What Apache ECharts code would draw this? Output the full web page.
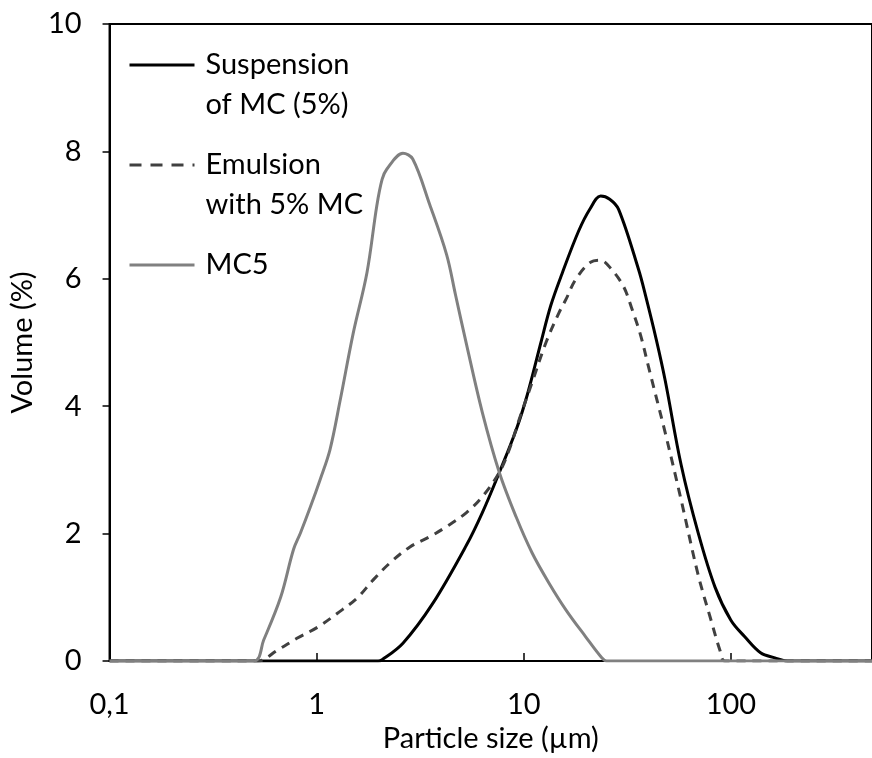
<!DOCTYPE html>
<html><head><meta charset="utf-8">
<script src="https://cdn.jsdelivr.net/npm/echarts@6/dist/echarts.min.js"></script>
<style>html,body{margin:0;padding:0;background:#fff}#c{width:872px;height:758px}</style>
</head><body><div id="c"></div>
<script>
const seriesNames = ['Suspension of MC (5%)', 'Emulsion with 5% MC', 'MC5'];
const legendLabels = ['\u00a0\nSuspension\nof MC (5%)', '\u00a0\nEmulsion\nwith 5% MC', '\u00a0\nMC5\n\u00a0'];
const xTitle = 'Particle size (µm)';
const yTitle = 'Volume (%)';

const suspensionSize   = [0.1, 1.98, 2.07, 2.61, 3.63, 5.29, 6.31, 7.62, 9.19, 10.4, 12.1, 13.5, 15.3, 18.4, 20.9, 23.5, 26.0, 28.7, 35.8, 38.7, 43.6, 48.2, 57.5, 69.5, 83.8, 100, 116.7, 139, 163, 188, 480];
const suspensionVolume = [0,   0,    0.02, 0.28, 0.90, 1.82, 2.33, 2.96, 3.63, 4.18, 5.00, 5.58, 6.08, 6.75, 7.10, 7.30, 7.25, 7.09, 6.15, 5.74, 5.05, 4.40, 3.08, 2.01, 1.16, 0.64, 0.38,  0.13, 0.05, 0, 0];

const emulsionSize   = [0.1, 0.519, 0.647, 0.807, 1.01, 1.26, 1.57, 1.87, 2.26, 2.82, 3.51, 4.24, 5.29, 6.31, 7.62, 8.51, 9.50, 10.96, 12.8, 14.8, 16.0, 17.8, 21.0, 23.5, 26.5, 30.3, 33.1, 36.6, 40.0, 48.2, 57.5, 69.5, 80.2, 88.5, 93.6, 480];
const emulsionVolume = [0,   0,     0.17,  0.36,  0.53, 0.75, 0.99, 1.27, 1.54, 1.79, 1.95, 2.11, 2.33, 2.58, 2.96, 3.32, 3.79, 4.37,  5.00, 5.47, 5.68, 5.99, 6.26, 6.29, 6.15, 5.88, 5.55, 5.12, 4.62, 3.58, 2.53, 1.35, 0.64, 0.17, 0, 0];

const mc5Size   = [0.1, 0.497, 0.555, 0.670, 0.773, 0.835, 0.933, 1.04, 1.16, 1.30, 1.50, 1.75, 1.95, 2.07, 2.18, 2.61, 2.91, 3.51, 4.24, 4.68, 5.29, 6.31, 7.62, 9.19, 10.96, 13.2, 16.0, 19.9, 23.8, 25.1, 480];
const mc5Volume = [0,   0,     0.33,  1.00,  1.75,  2.01,  2.42,  2.85, 3.32, 4.10, 5.14, 6.10, 7.14, 7.56, 7.72, 7.97, 7.88, 7.17, 6.38, 5.75, 4.97, 3.90, 2.96, 2.26, 1.70,  1.23, 0.80, 0.38, 0.05, 0, 0];

const FONT = 'Lato';
const pairs = (xs, ys) => xs.map((x, i) => [x, ys[i]]);

const chart = echarts.init(document.getElementById('c'), null, {renderer: 'canvas'});
chart.setOption({
  animation: false,
  backgroundColor: '#fff',
  textStyle: {fontFamily: FONT, color: '#000'},
  grid: {left: 108, right: -3, top: 24, bottom: 97, show: true, borderColor: '#000', borderWidth: 2, containLabel: false},
  legend: {
    orient: 'vertical', left: 123, top: 0, itemGap: -20,
    itemWidth: 65, itemHeight: 14,
    data: [
      {name: seriesNames[0]},
      {name: seriesNames[1], lineStyle: {type: [12, 9], width: 3}},
      {name: seriesNames[2]}
    ],
    formatter: name => legendLabels[seriesNames.indexOf(name)],
    itemStyle: {opacity: 0},
    lineStyle: {width: 3},
    textStyle: {fontFamily: FONT, fontSize: 29, color: '#000', lineHeight: 40, padding: [0, 0, 0, 6]},
    selectedMode: false
  },
  xAxis: {
    type: 'log', logBase: 10, min: 0.1, max: 480,
    name: xTitle, nameLocation: 'middle', nameGap: 63,
    nameTextStyle: {fontFamily: FONT, fontSize: 29, color: '#000'},
    axisLine: {show: true, lineStyle: {color: '#000', width: 2}},
    axisTick: {show: true, inside: true, length: 8, lineStyle: {color: '#000', width: 1.5}},
    axisLabel: {fontFamily: FONT, fontSize: 29, color: '#000', margin: 29, showMaxLabel: false,
      formatter: v => String(+v.toPrecision(6)).replace('.', ',')},
    splitLine: {show: false}, minorTick: {show: false}
  },
  yAxis: {
    type: 'value', min: 0, max: 10, interval: 2,
    name: yTitle, nameLocation: 'middle', nameGap: 53, nameRotate: 90,
    nameTextStyle: {fontFamily: FONT, fontSize: 29, color: '#000'},
    axisLine: {show: true, lineStyle: {color: '#000', width: 2}},
    axisTick: {show: true, inside: false, length: 7, lineStyle: {color: '#000', width: 1.5}},
    axisLabel: {fontFamily: FONT, fontSize: 29, color: '#000', margin: 28},
    splitLine: {show: false}
  },
  series: [
    {name: seriesNames[0], type: 'line', data: pairs(suspensionSize, suspensionVolume), symbol: 'none', smooth: 0.35,
      lineStyle: {color: '#000000', width: 3}, itemStyle: {color: '#000000'}},
    {name: seriesNames[1], type: 'line', data: pairs(emulsionSize, emulsionVolume), symbol: 'none', smooth: 0.35,
      lineStyle: {color: '#404040', width: 3, type: [9, 7]}, itemStyle: {color: '#404040'}},
    {name: seriesNames[2], type: 'line', data: pairs(mc5Size, mc5Volume), symbol: 'none', smooth: 0.35,
      lineStyle: {color: '#808080', width: 3}, itemStyle: {color: '#808080'}}
  ]
});
</script></body></html>
